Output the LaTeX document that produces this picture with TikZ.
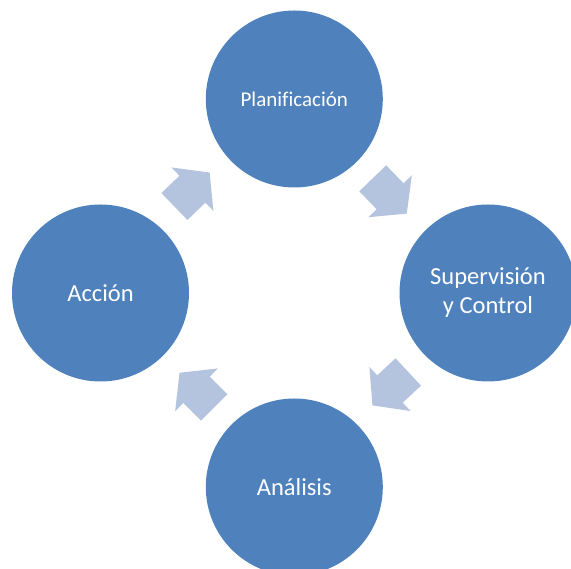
\documentclass[tikz,border=0pt]{standalone}
\usepackage{fontspec}
\setmainfont{Carlito}[Ligatures=NoCommon]
\usetikzlibrary{shapes.arrows}

\definecolor{stageblue}{HTML}{4F81BD}
\definecolor{turnblue}{RGB}{180,196,222}

\tikzset{
  stage/.style={circle, fill=stageblue, text=white, minimum size=177pt,
    inner sep=0pt, align=center, font=\fontsize{24.5}{29}\selectfont},
  turn/.style={single arrow, fill=turnblue, inner xsep=0pt, inner ysep=18.5pt,
    minimum height=49pt,
    single arrow head extend=11.5pt, single arrow tip angle=103,
    single arrow head indent=0pt}
}

\begin{document}
\begin{tikzpicture}[x=1pt,y=1pt]
  \clip (0,0) rectangle (571,569);

  \node[stage] (plan) at (294.3,470) {\fontsize{21}{25}\selectfont Planificación};
  \node[stage] (sup)  at (488,276)   {Supervisión\\y Control};
  \node[stage] (anal) at (294.3,82)  {Análisis};
  \node[stage] (acc)  at (100.5,276) {Acción};

  \node[turn, rotate=44]   (t1) at (186.7,374.3) {};
  \node[turn, rotate=-46]  (t2) at (384.6,378.4) {};
  \node[turn, rotate=-137] (t3) at (395.8,185.4) {};
  \node[turn, rotate=135]  (t4) at (202.1,173.6) {};
\end{tikzpicture}
\end{document}
